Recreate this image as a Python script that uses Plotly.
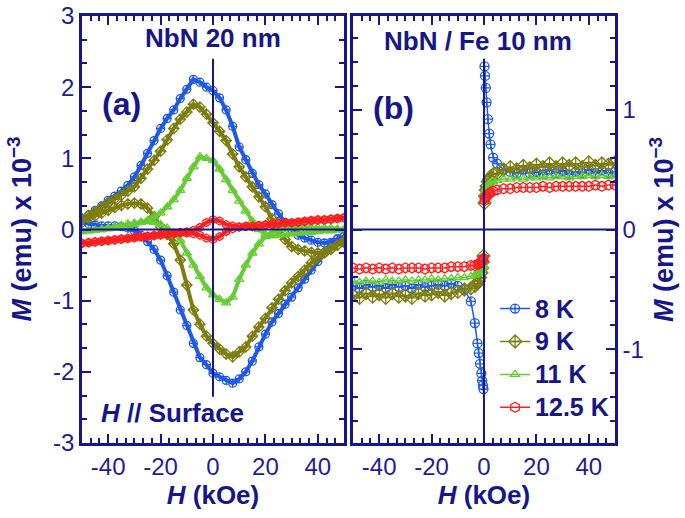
import plotly.graph_objects as go

# ---------------- data ----------------
# Panel (a): NbN 20 nm, field grid (kOe)
H_A = [-50, -47.5, -45, -42.5, -40, -37.5, -35, -32.5, -30, -27.5, -25, -22.5, -20, -17.5,
       -15, -12.5, -10, -7.5, -5, -2.5, 0, 2.5, 5, 7.5, 10, 12.5, 15, 17.5, 20, 22.5, 25,
       27.5, 30, 32.5, 35, 37.5, 40, 42.5, 45, 47.5, 50]

A_8K_UP = [0.14, 0.2, 0.27, 0.33, 0.41, 0.47, 0.54, 0.62, 0.74, 0.9, 1.07, 1.25, 1.42, 1.56,
           1.68, 1.84, 1.97, 2.11, 2.07, 2.0, 1.95, 1.85, 1.68, 1.45, 1.16, 0.98, 0.79, 0.63,
           0.5, 0.35, 0.22, 0.1, 0.0, -0.08, -0.12, -0.15, -0.18, -0.19, -0.18, -0.14, -0.1]
A_8K_DN = [0.1, 0.08, 0.06, 0.05, 0.05, 0.05, 0.04, 0.02, -0.02, -0.08, -0.17, -0.28, -0.43,
           -0.65, -0.88, -1.13, -1.35, -1.6, -1.8, -1.9, -2.02, -2.07, -2.12, -2.16, -2.1, -2.0,
           -1.85, -1.65, -1.47, -1.3, -1.18, -1.05, -0.95, -0.82, -0.7, -0.57, -0.45, -0.33,
           -0.2, -0.13, -0.1]

A_9K_UP = [0.15, 0.2, 0.25, 0.31, 0.38, 0.43, 0.48, 0.54, 0.6, 0.72, 0.85, 0.97, 1.1, 1.26,
           1.42, 1.55, 1.65, 1.76, 1.72, 1.62, 1.5, 1.38, 1.25, 1.06, 0.88, 0.74, 0.6, 0.46,
           0.32, 0.15, 0.0, -0.14, -0.24, -0.28, -0.3, -0.32, -0.33, -0.32, -0.28, -0.22, -0.16]
A_9K_DN = [0.14, 0.16, 0.19, 0.23, 0.27, 0.31, 0.34, 0.36, 0.37, 0.36, 0.3, 0.18, 0.04, -0.07,
           -0.2, -0.43, -0.78, -1.13, -1.33, -1.5, -1.6, -1.68, -1.75, -1.79, -1.72, -1.65,
           -1.5, -1.37, -1.25, -1.1, -0.98, -0.86, -0.75, -0.66, -0.57, -0.47, -0.4, -0.33,
           -0.27, -0.22, -0.18]

A_11K_UP = [-0.03, -0.02, -0.01, 0.0, 0.01, 0.02, 0.03, 0.05, 0.07, 0.1, 0.13, 0.18, 0.23,
            0.32, 0.42, 0.55, 0.72, 0.88, 1.02, 1.0, 0.97, 0.85, 0.7, 0.55, 0.4, 0.26, 0.12,
            0.0, -0.07, -0.09, -0.08, -0.07, -0.06, -0.05, -0.04, -0.04, -0.03, -0.02, -0.02,
            -0.01, 0.0]
A_11K_DN = [-0.03, -0.02, -0.01, 0.0, 0.02, 0.04, 0.06, 0.08, 0.09, 0.1, 0.11, 0.1, 0.07,
            0.02, -0.05, -0.15, -0.33, -0.5, -0.66, -0.82, -0.92, -0.98, -1.03, -0.95, -0.7,
            -0.5, -0.33, -0.2, -0.1, -0.04, 0.0, 0.02, 0.03, 0.03, 0.03, 0.03, 0.03, 0.02,
            0.02, 0.01, 0.0]

A_125K_UP = [-0.19, -0.18, -0.17, -0.16, -0.15, -0.14, -0.13, -0.12, -0.11, -0.1, -0.09,
             -0.08, -0.07, -0.06, -0.05, -0.04, -0.03, -0.01, 0.03, 0.1, 0.14, 0.12, 0.07,
             0.05, 0.04, 0.05, 0.05, 0.06, 0.07, 0.08, 0.09, 0.1, 0.1, 0.11, 0.12, 0.13,
             0.14, 0.14, 0.15, 0.16, 0.17]
A_125K_DN = [-0.2, -0.19, -0.18, -0.17, -0.16, -0.15, -0.14, -0.13, -0.12, -0.11, -0.1,
             -0.09, -0.08, -0.07, -0.06, -0.05, -0.05, -0.06, -0.08, -0.12, -0.14, -0.1,
             -0.03, 0.01, 0.03, 0.04, 0.04, 0.05, 0.06, 0.07, 0.08, 0.09, 0.09, 0.1, 0.11,
             0.12, 0.13, 0.13, 0.14, 0.15, 0.16]

# Panel (b): NbN / Fe 10 nm
H_B_NEG = [-50, -47.5, -45, -42.5, -40, -37.5, -35, -32.5, -30, -27.5, -25, -22.5, -20,
           -17.5, -15, -12.5, -10, -7.5, -5, -3.5, -2.5, -2.0, -1.5, -1.0, -0.7, -0.4, -0.2]
H_B_POS = [0.2, 0.4, 0.7, 1.0, 1.5, 2.0, 2.5, 3.5, 5, 7.5, 10, 12.5, 15, 17.5, 20, 22.5, 25,
           27.5, 30, 32.5, 35, 37.5, 40, 42.5, 45, 47.5, 50]

B_8K_NEG = [-0.47, -0.49, -0.46, -0.48, -0.47, -0.49, -0.46, -0.48, -0.47, -0.49, -0.46,
            -0.48, -0.47, -0.46, -0.47, -0.45, -0.47, -0.5, -0.6, -0.78, -0.95, -1.03, -1.12,
            -1.2, -1.26, -1.3, -1.33]
B_8K_POS = [1.36, 1.28, 1.18, 1.06, 0.92, 0.8, 0.71, 0.6, 0.55, 0.5, 0.48, 0.47, 0.5, 0.47,
            0.48, 0.46, 0.5, 0.47, 0.49, 0.46, 0.48, 0.47, 0.5, 0.47, 0.49, 0.47, 0.48]

B_9K_NEG = [-0.55, -0.57, -0.53, -0.56, -0.54, -0.57, -0.53, -0.56, -0.55, -0.57, -0.53,
            -0.55, -0.54, -0.52, -0.55, -0.53, -0.52, -0.5, -0.49, -0.47, -0.45, -0.43, -0.4,
            -0.36, -0.32, -0.27, -0.22]
B_9K_POS = [0.22, 0.28, 0.33, 0.36, 0.4, 0.42, 0.44, 0.46, 0.47, 0.5, 0.52, 0.5, 0.53, 0.51,
            0.54, 0.52, 0.55, 0.52, 0.55, 0.53, 0.55, 0.52, 0.56, 0.53, 0.55, 0.54, 0.56]

B_11K_NEG = [-0.43, -0.44, -0.43, -0.43, -0.44, -0.42, -0.43, -0.43, -0.42, -0.43, -0.42,
             -0.42, -0.41, -0.42, -0.41, -0.41, -0.4, -0.4, -0.39, -0.38, -0.37, -0.36,
             -0.35, -0.34, -0.33, -0.31, -0.3]
B_11K_POS = [0.3, 0.32, 0.34, 0.35, 0.37, 0.38, 0.39, 0.4, 0.41, 0.42, 0.42, 0.43, 0.42,
             0.43, 0.43, 0.44, 0.43, 0.44, 0.44, 0.43, 0.44, 0.44, 0.45, 0.44, 0.45, 0.44, 0.45]

B_125K_NEG = [-0.32, -0.33, -0.32, -0.33, -0.32, -0.33, -0.32, -0.33, -0.32, -0.32, -0.32,
              -0.33, -0.32, -0.32, -0.32, -0.31, -0.31, -0.31, -0.3, -0.3, -0.29, -0.29,
              -0.28, -0.27, -0.26, -0.25, -0.24]
B_125K_POS = [0.24, 0.26, 0.27, 0.28, 0.29, 0.3, 0.31, 0.32, 0.33, 0.34, 0.34, 0.35, 0.35,
              0.35, 0.35, 0.36, 0.35, 0.36, 0.36, 0.36, 0.36, 0.36, 0.36, 0.37, 0.36, 0.37, 0.37]

SERIES_NAMES = ["8 K", "9 K", "11 K", "12.5 K"]
COLORS = ["#1f5ae6", "#7d7d10", "#66cc33", "#ff1f1f"]
SYMBOLS = ["circle-cross-open", "diamond-cross-open", "triangle-up-open", "hexagon-open"]

X_TICKS = [-40, -20, 0, 20, 40]
X_TICK_LABELS = ["-40", "-20", "0", "20", "40"]
YA_TICKS = [-3, -2, -1, 0, 1, 2, 3]
YA_TICK_LABELS = ["-3", "-2", "-1", "0", "1", "2", "3"]
YB_TICKS = [-1, 0, 1]
YB_TICK_LABELS = ["-1", "0", "1"]

# ---------------- figure ----------------
NAVY = "#16168a"
TXT = "#1e1e92"
FONT = "Liberation Sans, Arial, sans-serif"

fig = go.Figure()

a_series = [(A_8K_UP, A_8K_DN), (A_9K_UP, A_9K_DN), (A_11K_UP, A_11K_DN), (A_125K_UP, A_125K_DN)]
for i, (up, dn) in enumerate(a_series):
    for br in (up, dn):
        fig.add_trace(go.Scatter(
            x=H_A, y=br, xaxis="x", yaxis="y", mode="lines+markers",
            line=dict(color=COLORS[i], width=4),
            marker=dict(symbol=SYMBOLS[i], size=8, color=COLORS[i], line=dict(width=1.3, color=COLORS[i])),
            showlegend=False, hoverinfo="skip"))

b_series = [(B_8K_NEG, B_8K_POS), (B_9K_NEG, B_9K_POS), (B_11K_NEG, B_11K_POS), (B_125K_NEG, B_125K_POS)]
b_sizes = [9, 10, 8, 10]
for i, (neg, pos) in enumerate(b_series):
    for j, (hh, mm) in enumerate(((H_B_NEG, neg), (H_B_POS, pos))):
        fig.add_trace(go.Scatter(
            x=hh, y=mm, xaxis="x2", yaxis="y2", mode="lines+markers",
            name="<span style='font-size:25px'><b>" + SERIES_NAMES[i] + "</b></span>",
            line=dict(color=COLORS[i], width=1.5),
            marker=dict(symbol=SYMBOLS[i], size=b_sizes[i], color=COLORS[i], line=dict(width=1.3, color=COLORS[i])),
            showlegend=(j == 1), legendrank=i + 1, hoverinfo="skip"))

common_x = dict(range=[-50, 50], tickmode="array", tickvals=X_TICKS, ticktext=X_TICK_LABELS,
                ticks="inside", ticklen=9, tickwidth=2, tickcolor=NAVY,
                showline=True, linecolor=NAVY, linewidth=2.5, mirror="ticks",
                showgrid=False, zeroline=False, automargin=False,
                minor=dict(dtick=10 / 3, tick0=0, ticks="inside", ticklen=5, tickwidth=1.5, tickcolor=NAVY),
                tickfont=dict(family=FONT, size=24, color=TXT),
                title=dict(text="<b><i>H</i> (kOe)</b>", font=dict(family=FONT, size=26, color=NAVY), standoff=8))

ytitle = "<b><i>M</i> (emu) x 10<sup>\u22123</sup></b>"

fig.update_layout(
    width=685, height=518,
    margin=dict(l=82, r=70, t=16, b=75),
    paper_bgcolor="white", plot_bgcolor="white",
    xaxis=dict(domain=[0, 0.4916], anchor="y", **common_x),
    xaxis2=dict(domain=[0.5084, 1], anchor="y2", **common_x),
    yaxis=dict(domain=[0, 1], anchor="x", range=[-3, 3], tickmode="array", tickvals=YA_TICKS,
               ticktext=YA_TICK_LABELS, ticks="inside", ticklen=9, tickwidth=2, tickcolor=NAVY,
               showline=True, linecolor=NAVY, linewidth=2.5, mirror="ticks", showgrid=False,
               zeroline=False, automargin=False,
               minor=dict(dtick=1 / 3, tick0=0, ticks="inside", ticklen=5, tickwidth=1.5, tickcolor=NAVY),
               tickfont=dict(family=FONT, size=24, color=TXT)),
    yaxis2=dict(domain=[0, 1], anchor="x2", side="right", range=[-1.78, 1.78], tickmode="array",
                tickvals=YB_TICKS, ticktext=YB_TICK_LABELS, ticks="inside", ticklen=9, tickwidth=2,
                tickcolor=NAVY, showline=True, linecolor=NAVY, linewidth=2.5, mirror="ticks",
                showgrid=False, zeroline=False, automargin=False,
                minor=dict(dtick=0.2, tick0=0, ticks="inside", ticklen=5, tickwidth=1.5, tickcolor=NAVY),
                tickfont=dict(family=FONT, size=24, color=TXT),
                title=dict(text=ytitle, font=dict(family=FONT, size=27, color=NAVY), standoff=12)),
    legend=dict(x=0.775, y=0.365, xanchor="left", yanchor="top", bgcolor="rgba(0,0,0,0)",
                font=dict(family=FONT, size=23, color=NAVY), tracegroupgap=0,
                itemwidth=30, traceorder="normal"),
    showlegend=True,
)

# left y-axis title (placed further out than the automatic title position)
fig.add_annotation(x=-0.118, y=0.5, xref="paper", yref="paper", text=ytitle, textangle=-90,
                   showarrow=False, xanchor="center", yanchor="middle",
                   font=dict(family=FONT, size=27, color=NAVY))

# reference lines at zero
fig.add_shape(type="line", xref="x domain", yref="y", x0=0, x1=1, y0=0, y1=0,
              line=dict(color=NAVY, width=2), layer="above")
fig.add_shape(type="line", xref="x", yref="y", x0=0, x1=0, y0=-2.35, y1=2.4,
              line=dict(color=NAVY, width=2), layer="above")
fig.add_shape(type="line", xref="x2 domain", yref="y2", x0=0, x1=1, y0=0, y1=0,
              line=dict(color=NAVY, width=2), layer="above")
fig.add_shape(type="line", xref="x2", yref="y2 domain", x0=0, x1=0, y0=0, y1=0.9,
              line=dict(color=NAVY, width=2), layer="above")

ann_font = dict(family=FONT, color=NAVY)
fig.add_annotation(x=0, y=2.69, xref="x", yref="y", text="<b>NbN 20 nm</b>", showarrow=False,
                   font=dict(size=26, **ann_font))
fig.add_annotation(x=-35, y=1.76, xref="x", yref="y", text="<b>(a)</b>", showarrow=False,
                   font=dict(size=32, **ann_font))
fig.add_annotation(x=-15.6, y=-2.58, xref="x", yref="y", text="<b><i>H</i> // Surface</b>",
                   showarrow=False, font=dict(size=26, **ann_font))
fig.add_annotation(x=-2.3, y=1.57, xref="x2", yref="y2", text="<b>NbN / Fe 10 nm</b>",
                   showarrow=False, font=dict(size=26, **ann_font))
fig.add_annotation(x=-34.7, y=1.01, xref="x2", yref="y2", text="<b>(b)</b>", showarrow=False,
                   font=dict(size=32, **ann_font))

fig.write_html("out.html", config={"displayModeBar": False},
               post_script="document.body.style.margin='0px';")
